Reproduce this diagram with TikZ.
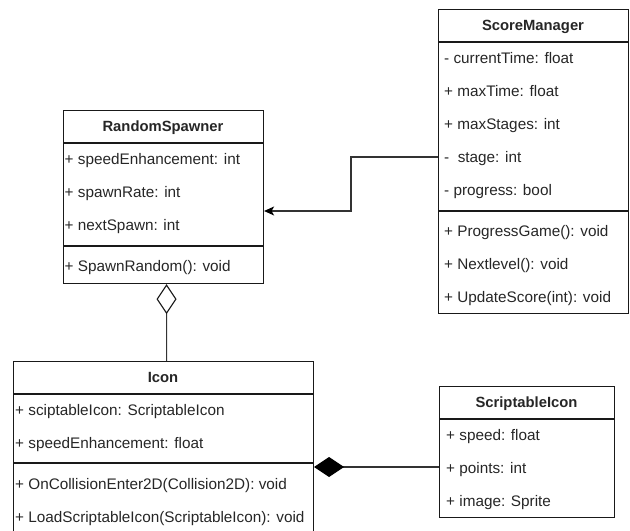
\documentclass[tikz,border=0pt]{standalone}
\usepackage{fontspec}
\setmainfont{Liberation Sans}
\usetikzlibrary{arrows.meta,calc}
\begin{document}
\begin{tikzpicture}[x=1bp,y=-1bp,
  font=\fontsize{15.3bp}{18bp}\selectfont,
  umlbox/.style={draw=black!90, line width=1.1bp, inner sep=0pt, anchor=north west},
  sep/.style={draw=black!90, line width=1.1bp},
  ttl/.style={font=\fontsize{14.8bp}{17bp}\selectfont\bfseries, anchor=base, inner sep=0pt, text=black!85},
  attr/.style={anchor=base west, inner sep=0pt, text=black!85},
  link/.style={draw=black!80, line width=1.1bp}]
\useasboundingbox (0,0) rectangle (630,531);
\clip (0,0) rectangle (630,531);

% ---------- ScoreManager ----------
\node[umlbox, minimum width=190bp, minimum height=304bp] (sm) at (438,9) {};
\draw[sep] ($(sm.north west)+(0,33)$) -- ($(sm.north east)+(0,33)$);
\draw[sep] ($(sm.north west)+(0,202)$) -- ($(sm.north east)+(0,202)$);
\node[ttl] (smt) at (533,30.5) {ScoreManager};
\node[attr] (sm1) at (444,63.5) {- currentTime: float};
\node[attr] (sm2) at (444,96.5) {+ maxTime: float};
\node[attr] (sm3) at (444,129.5) {+ maxStages: int};
\node[attr] (sm4) at (444,162.5) {- \ stage: int};
\node[attr] (sm5) at (444,195.5) {- progress: bool};
\node[attr] (sm6) at (444,236.5) {+ ProgressGame(): void};
\node[attr] (sm7) at (444,269.5) {+ Nextlevel(): void};
\node[attr] (sm8) at (444,302.5) {+ UpdateScore(int): void};

% ---------- RandomSpawner ----------
\node[umlbox, minimum width=200bp, minimum height=173bp] (rs) at (63,110) {};
\draw[sep] ($(rs.north west)+(0,33)$) -- ($(rs.north east)+(0,33)$);
\draw[sep] ($(rs.north west)+(0,136)$) -- ($(rs.north east)+(0,136)$);
\node[ttl] (rst) at (163,131.5) {RandomSpawner};
\node[attr] (rs1) at (64.5,164.5) {+ speedEnhancement: int};
\node[attr] (rs2) at (64.5,197.5) {+ spawnRate: int};
\node[attr] (rs3) at (64.5,230.5) {+ nextSpawn: int};
\node[attr] (rs4) at (64.5,271.5) {+ SpawnRandom(): void};

% ---------- Icon ----------
\node[umlbox, minimum width=300bp, minimum height=180bp] (icon) at (13,361) {};
\draw[sep] ($(icon.north west)+(0,33)$) -- ($(icon.north east)+(0,33)$);
\draw[sep] ($(icon.north west)+(0,102)$) -- ($(icon.north east)+(0,102)$);
\node[ttl] (icont) at (163,382.5) {Icon};
\node[attr] (ic1) at (15,415.5) {+ sciptableIcon: ScriptableIcon};
\node[attr] (ic2) at (15,448.5) {+ speedEnhancement: float};
\node[attr] (ic3) at (15,489.5) {+ OnCollisionEnter2D(Collision2D): void};
\node[attr] (ic4) at (15,522.5) {+ LoadScriptableIcon(ScriptableIcon): void};

% ---------- ScriptableIcon ----------
\node[umlbox, minimum width=175bp, minimum height=131bp] (si) at (439,386) {};
\draw[sep] ($(si.north west)+(0,33)$) -- ($(si.north east)+(0,33)$);
\node[ttl] (sit) at (526.5,407.5) {ScriptableIcon};
\node[attr] (si1) at (446,440.5) {+ speed: float};
\node[attr] (si2) at (446,473.5) {+ points: int};
\node[attr] (si3) at (446,506.5) {+ image: Sprite};

% ---------- Relations ----------
% association ScoreManager -> RandomSpawner
\draw[link, -{Stealth[length=10bp, width=9bp, inset=2.5bp, color=black]}]
  ($(sm.north west)+(0,148)$) -- ++(-87,0) |- ($(rs.north east)+(0,101)$);
% aggregation Icon <>- RandomSpawner
\draw[link, {Diamond[open, fill=white, color=black!90, length=30bp, width=20bp]}-]
  ($(rs.south)+(3,0)$) -- ($(icon.north)+(3,0)$);
% composition ScriptableIcon -<*> Icon
\draw[link, {Diamond[length=30bp, width=20bp, color=black]}-]
  ($(icon.north east)+(0,106)$) -- ($(si.north west)+(0,81)$);
\end{tikzpicture}
\end{document}
